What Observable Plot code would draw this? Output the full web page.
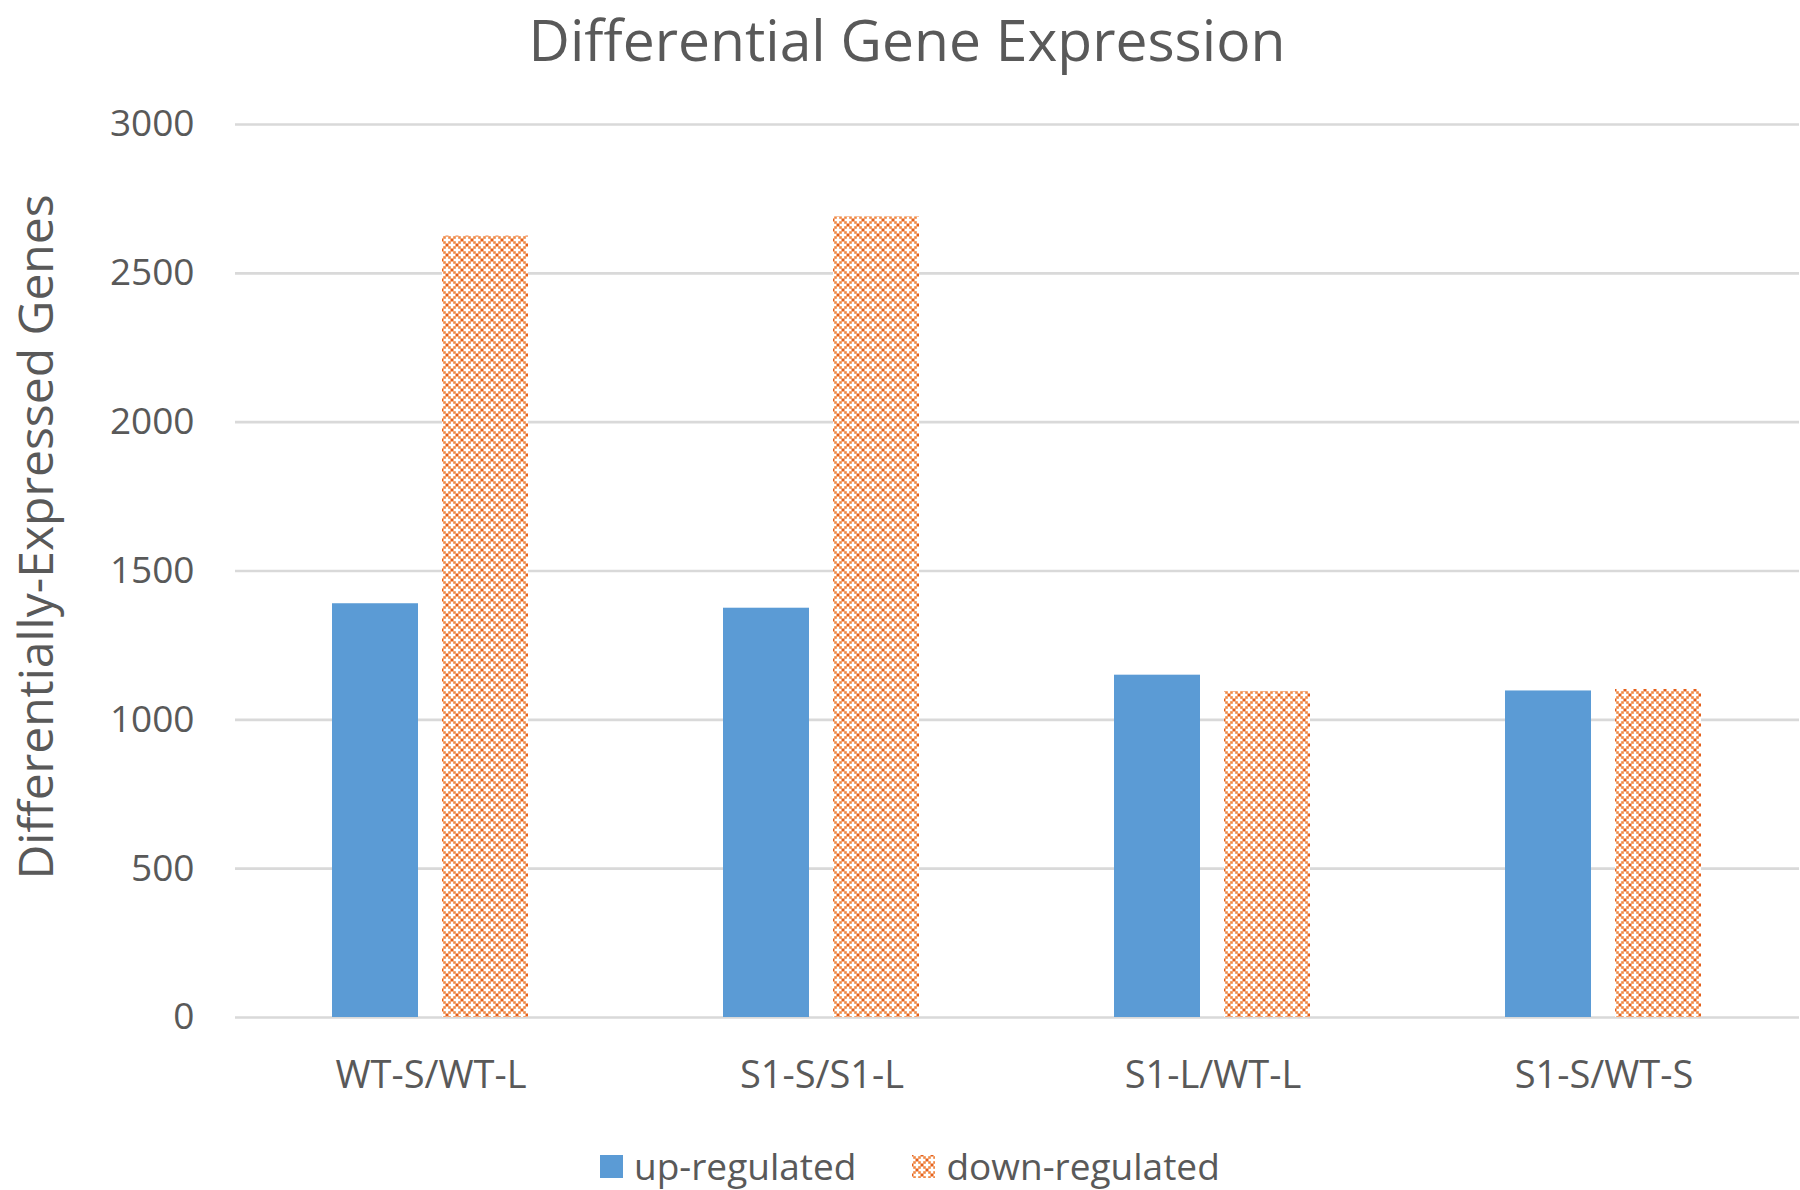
<!DOCTYPE html>
<html>
<head>
<meta charset="utf-8">
<script src="https://cdn.jsdelivr.net/npm/d3@7"></script>
<script src="https://cdn.jsdelivr.net/npm/@observablehq/plot@0.6"></script>
<style>
  html, body { margin: 0; padding: 0; background: #fff; }
  #wrap { position: relative; width: 1800px; height: 1190px; font-family: "Open Sans", sans-serif; color: #595959; overflow: hidden; }
  #title { position: absolute; left: 0; top: 0; width: 1800px; box-sizing: border-box; padding-left: 14px; text-align: center; font-size: 57px; line-height: normal; }
  #chart { position: absolute; left: 0; top: 0; }
  #legend { position: absolute; left: 600px; top: 1146px; display: flex; align-items: center; font-size: 37px; line-height: 40px; }
  #legend .item { display: flex; align-items: center; }
  #legend .sw { width: 23px; height: 23px; margin-right: 11px; display: block; }
</style>
</head>
<body>
<div id="wrap">
  <div id="chart"></div>
  <div id="title">Differential Gene Expression</div>
  <div id="legend"></div>
</div>
<script>
const categories = ["WT-S/WT-L", "S1-S/S1-L", "S1-L/WT-L", "S1-S/WT-S"];
const seriesNames = ["up-regulated", "down-regulated"];
const upRegulated = [1390, 1375, 1150, 1097];
const downRegulated = [2625, 2690, 1095, 1102];
const yTicks = [0, 500, 1000, 1500, 2000, 2500, 3000];
const yLabel = "Differentially-Expressed Genes";

const blue = "#5B9BD5";
const orange = "#ED7D31";

const upData = categories.map((c, i) => ({cat: c, series: seriesNames[0], value: upRegulated[i]}));
const downData = categories.map((c, i) => ({cat: c, series: seriesNames[1], value: downRegulated[i]}));

const plot = Plot.plot({
  width: 1800,
  height: 1135,
  marginTop: 124,
  marginBottom: 118,
  marginLeft: 233,
  marginRight: 0,
  style: {fontFamily: "'Open Sans', sans-serif", fontSize: "37px", color: "#595959", background: "transparent"},
  fx: {domain: categories, padding: 0, axis: "bottom", tickSize: 0, tickPadding: 44, label: null},
  x: {domain: seriesNames, paddingInner: 0.216, paddingOuter: 0.873, axis: null},
  y: {domain: [0, 3000], ticks: yTicks, tickSize: 0, tickPadding: 41, label: null, tickFormat: d => String(d)},
  marks: [
    Plot.ruleY(yTicks, {stroke: "#D9D9D9", strokeWidth: 2.6}),
    Plot.barY(upData, {fx: "cat", x: "series", y: "value", fill: blue}),
    Plot.barY(downData, {fx: "cat", x: "series", y: "value", fill: orange, className: "down-bars"})
  ]
});

document.getElementById("chart").appendChild(plot);

function addPattern(svgSel, id) {
  const defs = svgSel.insert("defs", ":first-child");
  const p = defs.append("pattern").attr("id", id).attr("patternUnits", "userSpaceOnUse")
    .attr("width", 10).attr("height", 10);
  p.append("rect").attr("width", 10).attr("height", 10).attr("fill", "#ffffff");
  const dark = "#E5601A", light = "#F08A45";
  [[0,0],[5,5],[10,10],[10,0],[0,10]].forEach(([x,y]) => {
    p.append("rect").attr("x", x-1.5).attr("y", y-1.5).attr("width", 3).attr("height", 3).attr("fill", dark);
  });
  [[2.5,2.5],[7.5,2.5],[2.5,7.5],[7.5,7.5]].forEach(([x,y]) => {
    p.append("rect").attr("x", x-1.3).attr("y", y-1.3).attr("width", 2.6).attr("height", 2.6).attr("fill", light);
  });
}

const svg = d3.select(plot);
addPattern(svg, "dotpat");
svg.selectAll(".down-bars").attr("fill", "url(#dotpat)");
svg.selectAll(".down-bars rect").attr("fill", "url(#dotpat)");
svg.selectAll('g[aria-label^="fx-axis"] text').attr("font-size", 38);

// y axis title
svg.append("text")
  .attr("transform", "translate(53,537) rotate(-90)")
  .attr("text-anchor", "middle")
  .attr("font-size", 48)
  .attr("fill", "#595959")
  .attr("font-family", "'Open Sans', sans-serif")
  .text(yLabel);

// legend
const legend = d3.select("#legend");
seriesNames.forEach((name, i) => {
  const item = legend.append("div").attr("class", "item").style("margin-right", i === 0 ? "56px" : "0px");
  const sw = item.append("svg").attr("class", "sw").attr("width", 23).attr("height", 23);
  if (i === 0) {
    sw.append("rect").attr("width", 23).attr("height", 23).attr("fill", blue);
  } else {
    addPattern(sw, "dotpat-legend");
    sw.append("rect").attr("width", 23).attr("height", 23).attr("fill", "url(#dotpat-legend)");
  }
  item.append("span").text(name);
});
</script>
</body>
</html>
